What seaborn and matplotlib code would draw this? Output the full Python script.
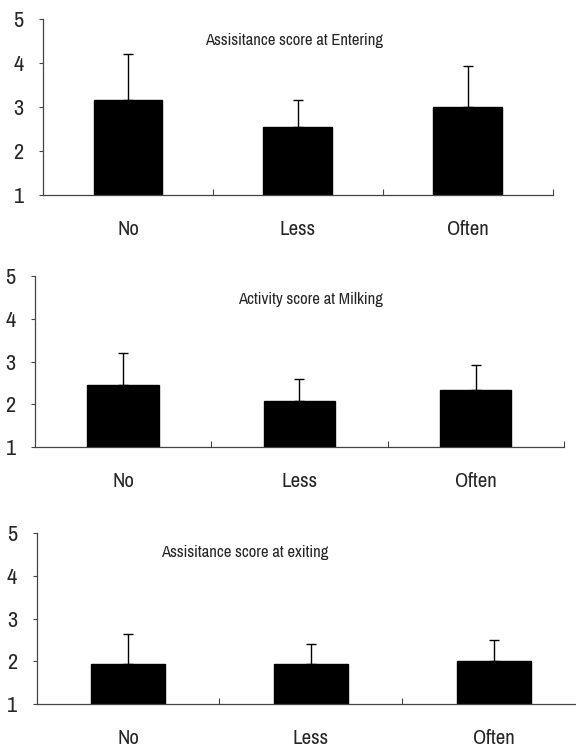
import matplotlib
matplotlib.use("Agg")
import matplotlib.pyplot as plt
import seaborn as sns
import pandas as pd

categories = ["No", "Less", "Often"]

entering_mean = [3.17, 2.54, 3.01]
entering_upper = [4.21, 3.17, 3.93]

milking_mean = [2.46, 2.09, 2.33]
milking_upper = [3.19, 2.59, 2.91]

exiting_mean = [1.94, 1.94, 2.00]
exiting_upper = [2.64, 2.40, 2.50]

titles = ["Assisitance score at Entering",
          "Activity score at Milking",
          "Assisitance score at exiting"]
yticks = [1, 2, 3, 4, 5]

sns.set_style("white")
plt.rcParams["font.family"] = ["Archivo Narrow", "Liberation Sans Narrow", "DejaVu Sans"]

fig = plt.figure(figsize=(5.76, 7.54), dpi=100)

# axes rectangles (left, bottom, width, height) in figure fraction
rects = [
    (0.0747, 0.7414, 0.885, 0.2334),
    (0.0608, 0.4068, 0.918, 0.2272),
    (0.0634, 0.0667, 0.953, 0.226),
]
title_pos = [(0.492, 0.88), (0.521, 0.86), (0.379, 0.89)]

panels = [
    (entering_mean, entering_upper),
    (milking_mean, milking_upper),
    (exiting_mean, exiting_upper),
]

for rect, (means, uppers), title, tpos in zip(rects, panels, titles, title_pos):
    ax = fig.add_axes(rect)
    df = pd.DataFrame({"group": categories, "score": means})
    sns.barplot(data=df, x="group", y="score", color="black", width=0.405,
                saturation=1, edgecolor="black", ax=ax)
    # upper-only error bars on the bar centres
    xs = [p.get_x() + p.get_width() / 2 for p in ax.patches]
    err = [u - m for u, m in zip(uppers, means)]
    ax.errorbar(xs, means, yerr=[[0] * len(err), err], fmt="none",
                ecolor="black", elinewidth=1, capsize=3.5, capthick=1)
    ax.set_ylim(1, 5)
    ax.set_xlim(-0.5, 2.5)
    ax.set_yticks(yticks)
    ax.set_xlabel("")
    ax.set_ylabel("")
    ax.set_xticks(range(len(categories)))
    ax.set_xticklabels(categories)
    ax.set_xticks([0.5, 1.5, 2.5], minor=True)
    ax.tick_params(axis="x", which="major", length=0, pad=18, labelsize=15)
    ax.tick_params(axis="x", which="minor", direction="in", length=4,
                   width=0.8, color="#444444", bottom=True)
    ax.tick_params(axis="y", which="major", direction="out", length=3,
                   width=0.8, color="#444444", pad=11, labelsize=16, left=True)
    for s in ["top", "right"]:
        ax.spines[s].set_visible(False)
    for s in ["left", "bottom"]:
        ax.spines[s].set_color("#444444")
        ax.spines[s].set_linewidth(0.9)
    ax.text(tpos[0], tpos[1], title, transform=ax.transAxes,
            ha="center", va="center", fontsize=12)

fig.savefig("out.png", dpi=100)
